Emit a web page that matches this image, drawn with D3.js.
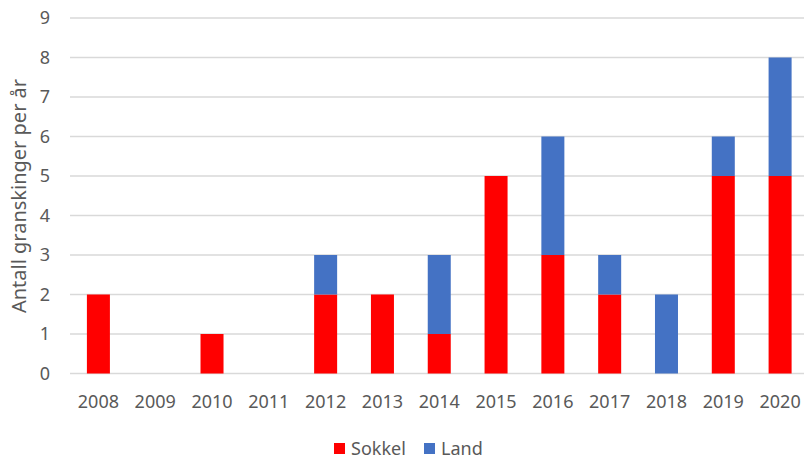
<!DOCTYPE html>
<html><head><meta charset="utf-8">
<script src="https://cdn.jsdelivr.net/npm/d3@7"></script>
<style>body{margin:0;background:#fff}svg{display:block}text{font-family:"Noto Sans",sans-serif;fill:#595959}</style>
</head><body>
<svg id="c" width="804" height="459"></svg>
<script>
const years = ["2008","2009","2010","2011","2012","2013","2014","2015","2016","2017","2018","2019","2020"];
const sokkel = [2,0,1,0,2,2,1,5,3,2,0,5,5];
const land = [0,0,0,0,1,0,2,0,3,1,2,1,3];
const seriesNames = ["Sokkel","Land"];
const seriesColors = ["#ff0000","#4472c4"];
const yTicks = [0,1,2,3,4,5,6,7,8,9];
const yTitle = "Antall granskinger per år";

const svg = d3.select("#c");
const x = d3.scaleBand().domain(years).range([70, 808.5]).paddingInner(0.595).paddingOuter(0.2975);
const y = d3.scaleLinear().domain([0,9]).range([373.5, 18]);

svg.append("g").selectAll("line").data(yTicks).join("line")
  .attr("x1",70).attr("x2",804).attr("y1",d=>y(d)).attr("y2",d=>y(d))
  .attr("stroke","#d9d9d9").attr("stroke-width",1.3);

const rows = years.map((yr,i)=>({year:yr, Sokkel:sokkel[i], Land:land[i]}));
const stack = d3.stack().keys(seriesNames)(rows);
svg.append("g").selectAll("g").data(stack).join("g")
  .attr("fill",(d,i)=>seriesColors[i])
  .selectAll("rect").data(d=>d.filter(p=>p[1]-p[0]>0)).join("rect")
  .attr("x",d=>x(d.data.year)).attr("width",x.bandwidth())
  .attr("y",d=>y(d[1])).attr("height",d=>y(d[0])-y(d[1]));

svg.append("g").selectAll("text").data(yTicks).join("text")
  .attr("x",50).attr("y",d=>y(d)).attr("dy","0.35em").attr("text-anchor","end")
  .style("font-size","18px").text(d=>d);

svg.append("g").selectAll("text").data(years).join("text")
  .attr("x",d=>x(d)+x.bandwidth()/2).attr("y",402).attr("dy","0.35em").attr("text-anchor","middle")
  .style("font-size","18px").text(d=>d);

svg.append("text").attr("transform","translate(26,196) rotate(-90)").attr("text-anchor","middle")
  .style("font-size","20px").text(yTitle);

const leg = svg.append("g");
const legX = [334, 424];
seriesNames.forEach((n,i)=>{
  leg.append("rect").attr("x",legX[i]).attr("y",443).attr("width",11).attr("height",11).attr("fill",seriesColors[i]);
  leg.append("text").attr("x",legX[i]+17).attr("y",449).attr("dy","0.35em").style("font-size","18px").text(n);
});
</script>
</body></html>
